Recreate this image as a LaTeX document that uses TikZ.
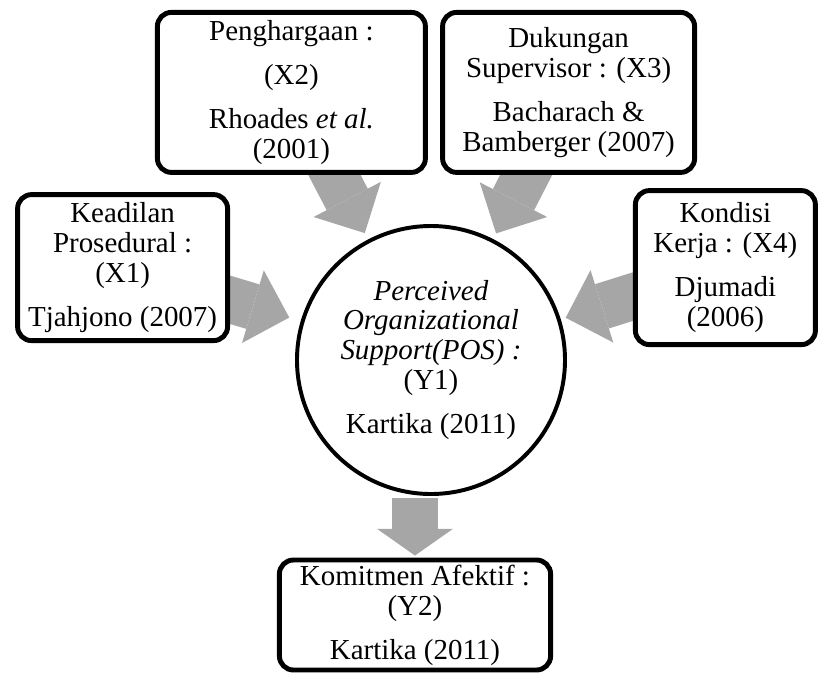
\documentclass[tikz,border=0pt]{standalone}
\usepackage{fontspec}
\setmainfont{Liberation Serif}
\usepackage{tikz}
\usetikzlibrary{arrows.meta, backgrounds}
\definecolor{arrowgray}{HTML}{A6A6A6}
\tikzstyle{factor} = [rectangle, rounded corners=0.35cm, line width=3.5pt, draw=black, fill=white, align=center, inner sep=0pt, font=\fontsize{20.6pt}{21.3pt}\selectfont]
\tikzstyle{hub} = [circle, minimum size=6.7cm, line width=2.8pt, draw=black, fill=white, align=center, inner sep=0pt, font=\fontsize{20.6pt}{21.3pt}\selectfont]
\tikzstyle{blockarrow} = [line width=33pt, draw=arrowgray, -{Triangle[width=54pt,length=27pt,line width=0pt,fill=arrowgray]}]

\begin{document}
\begin{tikzpicture}[node distance=6.69cm]
\useasboundingbox (-10.775,9.0) rectangle (9.725,-7.875);
\node (pos) [hub] {\textit{Perceived}\\\textit{Organizational}\\\textit{Support(POS) :}\\(Y1)\\[10pt]Kartika (2011)};
\node (x2) [factor, above of=pos, xshift=-3.49cm, minimum width=6.7cm, minimum height=4cm] {Penghargaan :\\[10pt](X2)\\[10pt]Rhoades \textit{et al.}\\(2001)};
\node (x3) [factor, above of=pos, xshift=3.44cm, minimum width=6.3cm, minimum height=4cm] {Dukungan\\Supervisor : (X3)\\[10pt]Bacharach \&\\Bamberger (2007)};
\node (x1) [factor, left of=pos, xshift=-1.02cm, yshift=2.31cm, minimum width=5.25cm, minimum height=3.65cm] {Keadilan\\Prosedural :\\(X1)\\[10pt]Tjahjono (2007)};
\node (x4) [factor, right of=pos, xshift=0.67cm, yshift=2.31cm, minimum width=4.5cm, minimum height=3.85cm] {Kondisi\\Kerja : (X4)\\[10pt]Djumadi\\(2006)};
\node (y2) [factor, below of=pos, xshift=-0.4cm, yshift=0.315cm, minimum width=6.78cm, minimum height=2.75cm] {Komitmen Afektif :\\(Y2)\\[10pt]Kartika (2011)};

% arrows under the boxes
\begin{scope}[on background layer]
\draw [blockarrow, shorten <=-0.5cm, shorten >=0.18cm] (x2) -- (pos);
\draw [blockarrow, shorten <=-0.5cm, shorten >=0.16cm] (x3) -- (pos);
\draw [blockarrow, shorten <=-0.5cm, shorten >=0.3cm] (x1) -- (pos);
\draw [blockarrow, shorten <=-0.5cm, shorten >=0.13cm] (x4) -- (pos);
\end{scope}
\draw [blockarrow, -{Triangle[width=54pt,length=19pt,line width=0pt,fill=arrowgray]}, shorten <=0.05cm, shorten >=0.05cm] (y2.north |- pos.south) -- (y2.north);
\end{tikzpicture}
\end{document}
